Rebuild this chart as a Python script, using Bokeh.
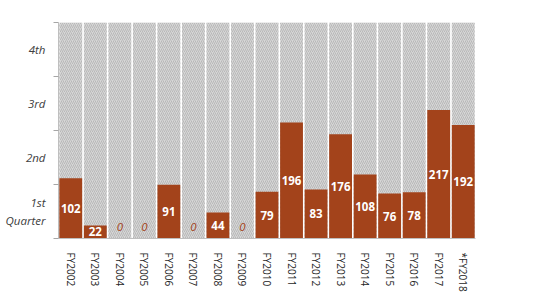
from bokeh.plotting import figure
from bokeh.models import ColumnDataSource, FixedTicker, Range1d
from bokeh.core.properties import value
from bokeh.embed import file_html
from bokeh.resources import INLINE

years = ["FY2002", "FY2003", "FY2004", "FY2005", "FY2006", "FY2007", "FY2008", "FY2009",
         "FY2010", "FY2011", "FY2012", "FY2013", "FY2014", "FY2015", "FY2016", "FY2017", "*FY2018"]
days = [102, 22, 0, 0, 91, 0, 44, 0, 79, 196, 83, 176, 108, 76, 78, 217, 192]
year_total = 365
quarter_names = ["1st\nQuarter", "2nd", "3rd", "4th"]

BROWN = "#A3431B"

p = figure(x_range=years, y_range=Range1d(0, year_total),
           frame_width=417, frame_height=216,
           output_backend="svg", toolbar_location=None,
           min_border_left=58, min_border_right=85, min_border_top=22, min_border_bottom=10)
p.outline_line_color = None
p.xgrid.grid_line_color = None
p.ygrid.grid_line_color = None

src = ColumnDataSource(dict(x=years, top=days, full=[year_total] * len(years)))

p.vbar(x="x", top="full", width=0.93, source=src, fill_color="#d6d6d6", line_color=None,
       hatch_pattern="/", hatch_color="#b8b8b8", hatch_scale=4, hatch_weight=1)
p.vbar(x="x", top="top", width=0.93, source=src, fill_color=BROWN, line_color=None)

pos_x = [y for y, d in zip(years, days) if d > 0]
pos_y = [d / 2 for d in days if d > 0]
pos_t = [str(d) for d in days if d > 0]
p.text(x=pos_x, y=pos_y, text=pos_t, text_color="white", text_font=value("Open Sans"),
       text_font_style="bold", text_font_size="11.5px", text_align="center", text_baseline="middle")

zero_x = [y for y, d in zip(years, days) if d == 0]
p.text(x=zero_x, y=[20] * len(zero_x), text=["0"] * len(zero_x), text_color=BROWN,
       text_font=value("Open Sans"), text_font_style="italic", text_font_size="11.5px",
       text_align="center", text_baseline="middle")

q = year_total / 4
mids = [q * (i + 0.5) for i in range(4)]
bounds = [q * i for i in range(5)]
p.yaxis.ticker = FixedTicker(ticks=mids, minor_ticks=bounds)
p.yaxis.major_label_overrides = {m: n for m, n in zip(mids, quarter_names)}
p.yaxis.major_tick_line_color = None
p.yaxis.minor_tick_out = 5
p.yaxis.minor_tick_in = 0
p.yaxis.minor_tick_line_color = "#a6a6a6"
p.yaxis.axis_line_color = "#bfbfbf"
p.yaxis.major_label_text_font = "Open Sans"
p.yaxis.major_label_text_font_style = "italic"
p.yaxis.major_label_text_font_size = "11.5px"
p.yaxis.major_label_text_color = "#404040"
p.yaxis.major_label_standoff = 7

p.xaxis.major_label_orientation = "vertical"
p.xaxis.major_tick_line_color = None
p.xaxis.minor_tick_line_color = None
p.xaxis.axis_line_color = "#bfbfbf"
p.xaxis.major_label_text_font = "Open Sans"
p.xaxis.major_label_text_font_size = "10px"
p.xaxis.major_label_text_color = "#262626"
p.xaxis.major_label_standoff = 8

open("out.html", "w").write(file_html(p, INLINE))
